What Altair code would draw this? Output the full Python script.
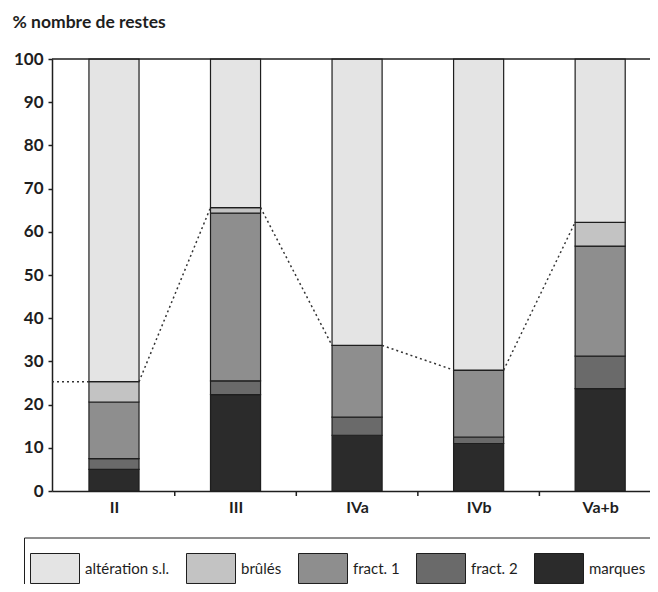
import json
import altair as alt
import pandas as pd

# ---------------- data ----------------
categories = ["II", "III", "IVa", "IVb", "Va+b"]
series = ["altération s.l.", "brûlés", "fract. 1", "fract. 2", "marques"]
marques = [5.0, 22.3, 12.9, 11.0, 23.7]
fract2 = [2.5, 3.2, 4.2, 1.5, 7.5]
fract1 = [13.1, 38.8, 16.6, 15.5, 25.5]
brules = [4.7, 1.3, 0.0, 0.0, 5.5]
alteration = [74.7, 34.4, 66.3, 72.0, 37.8]
colors = ["#e4e4e4", "#c3c3c3", "#8e8e8e", "#6a6a6a", "#2b2b2b"]
y_ticks = list(range(0, 101, 10))

# ---------------- layout/style ----------------
W, H = 598, 432
HW = 0.206            # bar half width (x units)
XMIN, XMAX = -0.51, 4.41
FONT = "Lato"
INK = "#1e1e1e"

# stacked rows (bottom -> top)
stack_order = [("marques", marques), ("fract. 2", fract2), ("fract. 1", fract1),
               ("brûlés", brules), ("altération s.l.", alteration)]
rows = []
tops = []
for i, cat in enumerate(categories):
    base = 0.0
    for name, vals in stack_order:
        v = vals[i]
        rows.append({"cat": cat, "idx": i, "series": name,
                     "x0": i - HW, "x1": i + HW, "y0": base, "y1": base + v})
        base += v
    tops.append(marques[i] + fract2[i] + fract1[i] + brules[i])
bars_df = pd.DataFrame(rows)

segs = [{"xs": XMIN, "xe": 0 - HW, "ys": tops[0], "ye": tops[0]}]
for i in range(len(categories) - 1):
    segs.append({"xs": i + HW, "xe": i + 1 - HW, "ys": tops[i], "ye": tops[i + 1]})
seg_df = pd.DataFrame(segs)

ticks_df = pd.DataFrame({"b": [i + 0.5 for i in range(len(categories) - 1)]})

xscale = alt.Scale(domain=[XMIN, XMAX], nice=False, zero=False)
yscale = alt.Scale(domain=[0, 100], nice=False)

label_expr = json.dumps(categories) + "[round(datum.value)]"

bars = alt.Chart(bars_df).mark_bar(stroke=INK, strokeWidth=1.2).encode(
    x=alt.X("x0:Q", scale=xscale, title=None,
            axis=alt.Axis(values=list(range(len(categories))), labelExpr=label_expr,
                          ticks=False, grid=False, labelFont=FONT, labelFontWeight="bold",
                          labelFontSize=16, labelColor=INK, labelPadding=8,
                          domainColor=INK, domainWidth=1.5)),
    x2="x1:Q",
    y=alt.Y("y0:Q", scale=yscale,
            axis=alt.Axis(values=y_ticks, grid=False, labelFont=FONT, labelFontWeight="bold",
                          labelFontSize=17, labelColor=INK, labelPadding=5, tickSize=4,
                          tickColor=INK, tickWidth=1.5, domainColor=INK, domainWidth=1.5,
                          title="% nombre de restes", titleAngle=0, titleX=-40, titleY=-32,
                          titleAlign="left", titleBaseline="alphabetic", titleFont=FONT,
                          titleFontSize=17.5, titleFontWeight="bold", titleColor=INK)),
    y2="y1:Q",
    fill=alt.Fill("series:N", scale=alt.Scale(domain=series, range=colors),
                  legend=alt.Legend(orient="none", legendX=-28, legendY=478.5,
                                    direction="horizontal", columns=5, title=None,
                                    symbolType="M-1,-0.612L1,-0.612L1,0.612L-1,0.612Z",
                                    symbolSize=2401, symbolStrokeColor=INK,
                                    symbolStrokeWidth=1, symbolOpacity=1,
                                    labelFont=FONT, labelFontSize=15, labelColor=INK,
                                    labelOffset=5, columnPadding=14, padding=6,
                                    strokeColor=INK, labelLimit=0)),
)

top_rule = alt.Chart(pd.DataFrame({"v": [100]})).mark_rule(
    color=INK, strokeWidth=1.5).encode(y=alt.Y("v:Q", scale=yscale))

connectors = alt.Chart(seg_df).mark_rule(
    color="#333333", strokeWidth=1.5, strokeDash=[2, 3]).encode(
    x=alt.X("xs:Q", scale=xscale), x2="xe:Q",
    y=alt.Y("ys:Q", scale=yscale), y2="ye:Q")

xticks = alt.Chart(ticks_df).mark_rule(color=INK, strokeWidth=1.5).encode(
    x=alt.X("b:Q", scale=xscale), y=alt.value(H), y2=alt.value(H + 5))

chart = alt.layer(bars, connectors, top_rule, xticks).properties(
    width=W, height=H,
    autosize=alt.AutoSizeParams(type="none"),
    padding={"left": 44, "top": 51, "right": 0, "bottom": 93},
).configure_view(stroke=None)

chart.save("out.html", embed_options={"renderer": "svg", "actions": False})
